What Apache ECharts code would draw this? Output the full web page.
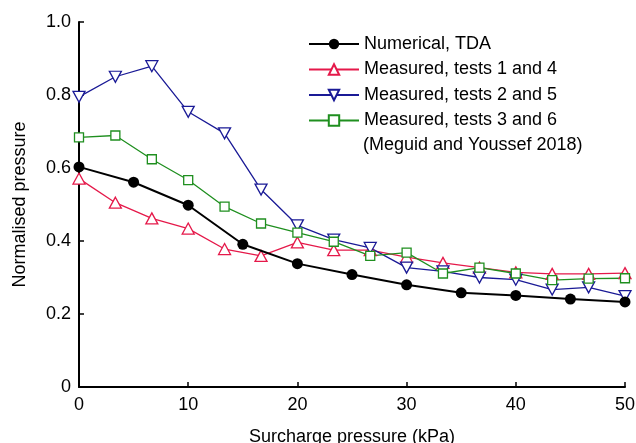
<!DOCTYPE html>
<html>
<head>
<meta charset="utf-8">
<script src="https://cdn.jsdelivr.net/npm/echarts@6/dist/echarts.min.js"></script>
<style>html,body{margin:0;padding:0;background:#fff}#c{width:636px;height:443px}</style>
</head>
<body>
<div id="c"></div>
<script>
var xTDA = [0, 5, 10, 15, 20, 25, 30, 35, 40, 45, 50];
var yTDA = [0.603, 0.561, 0.498, 0.391, 0.338, 0.308, 0.280, 0.258, 0.251, 0.241, 0.233];
var xMeas = [0, 3.33, 6.67, 10, 13.33, 16.67, 20, 23.33, 26.67, 30, 33.33, 36.67, 40, 43.33, 46.67, 50];
var yTest14 = [0.571, 0.505, 0.462, 0.434, 0.378, 0.359, 0.396, 0.375, 0.375, 0.356, 0.340, 0.327, 0.314, 0.310, 0.310, 0.312];
var yTest25 = [0.795, 0.850, 0.879, 0.754, 0.695, 0.541, 0.443, 0.404, 0.381, 0.327, 0.317, 0.300, 0.294, 0.267, 0.273, 0.249];
var yTest36 = [0.684, 0.689, 0.624, 0.567, 0.494, 0.448, 0.423, 0.398, 0.359, 0.368, 0.311, 0.327, 0.311, 0.293, 0.297, 0.298];
var seriesNames = ['Numerical, TDA', 'Measured, tests 1 and 4', 'Measured, tests 2 and 5', 'Measured, tests 3 and 6'];
var sourceNote = '(Meguid and Youssef 2018)';
var xTitle = 'Surcharge pressure (kPa)';
var yTitle = 'Normalised pressure';

function pairs(xs, ys) { return xs.map(function (x, i) { return [x, ys[i]]; }); }

var FONT = 'Liberation Sans, Arial, sans-serif';
var chart = echarts.init(document.getElementById('c'), null, { renderer: 'canvas' });
chart.setOption({
  animation: false,
  backgroundColor: '#fff',
  grid: { left: 79, right: 11, top: 22, bottom: 56, containLabel: false, outerBoundsMode: 'none' },
  legend: {
    orient: 'vertical',
    left: 308,
    top: 35,
    padding: 0,
    itemWidth: 50,
    itemHeight: 13,
    itemGap: 7.5,
    textStyle: { fontFamily: FONT, fontSize: 18, color: '#000', lineHeight: 18 },
    data: seriesNames
  },
  graphic: [{
    type: 'text', left: 363, top: 136,
    style: { text: sourceNote, font: '18px ' + FONT, fill: '#000' }
  }],
  xAxis: {
    type: 'value', min: 0, max: 50, interval: 10,
    name: xTitle, nameLocation: 'middle', nameGap: 41,
    nameTextStyle: { fontFamily: FONT, fontSize: 18, color: '#000' },
    axisLine: { lineStyle: { color: '#000', width: 2 } },
    axisTick: { inside: true, length: 5, lineStyle: { color: '#000', width: 1.5 } },
    axisLabel: { fontFamily: FONT, fontSize: 18, color: '#000', margin: 9 },
    splitLine: { show: false }
  },
  yAxis: {
    type: 'value', min: 0, max: 1, interval: 0.2,
    name: yTitle, nameLocation: 'middle', nameGap: 50,
    nameTextStyle: { fontFamily: FONT, fontSize: 18, color: '#000' },
    axisLine: { show: true, lineStyle: { color: '#000', width: 2 } },
    axisTick: { show: true, inside: true, length: 5, lineStyle: { color: '#000', width: 1.5 } },
    axisLabel: { fontFamily: FONT, fontSize: 18, color: '#000', margin: 8,
      formatter: function (v) { return v === 0 ? '0' : v.toFixed(1); } },
    splitLine: { show: false }
  },
  series: [
    { name: seriesNames[1], type: 'line', data: pairs(xMeas, yTest14), symbol: 'triangle', symbolSize: [12, 11],
      lineStyle: { color: '#e5194a', width: 1.3 }, itemStyle: { color: '#fff', borderColor: '#e5194a', borderWidth: 1.3 }, color: '#e5194a', z: 3 },
    { name: seriesNames[2], type: 'line', data: pairs(xMeas, yTest25), symbol: 'triangle', symbolRotate: 180, symbolSize: [12, 11],
      lineStyle: { color: '#1a1a96', width: 1.3 }, itemStyle: { color: '#fff', borderColor: '#1a1a96', borderWidth: 1.3 }, color: '#1a1a96', z: 3 },
    { name: seriesNames[3], type: 'line', data: pairs(xMeas, yTest36), symbol: 'rect', symbolSize: 9,
      lineStyle: { color: '#1f8f1f', width: 1.3 }, itemStyle: { color: '#fff', borderColor: '#1f8f1f', borderWidth: 1.3 }, color: '#1f8f1f', z: 3 },
    { name: seriesNames[0], type: 'line', data: pairs(xTDA, yTDA), symbol: 'circle', symbolSize: 11,
      lineStyle: { color: '#000', width: 2 }, itemStyle: { color: '#000' }, color: '#000', z: 4 }
  ]
});
</script>
</body>
</html>
